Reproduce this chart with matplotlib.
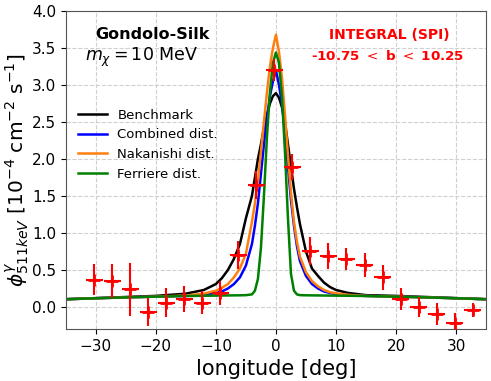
import matplotlib
matplotlib.use("Agg")
import matplotlib.pyplot as plt
import numpy as np

# ---- data ----
lon_model = [-35, -30, -25, -20, -15, -12, -10, -9, -8, -7, -6, -5, -4, -3.5, -3, -2.5, -2, -1.5, -1, -0.5,
             0, 0.5, 1, 1.5, 2, 2.5, 3, 3.5, 4, 5, 6, 7, 8, 9, 10, 12, 15, 20, 25, 30, 35]
benchmark = [0.105, 0.12, 0.135, 0.15, 0.18, 0.23, 0.31, 0.39, 0.5, 0.65, 0.85, 1.2, 1.5, 1.75, 2.0, 2.2, 2.42, 2.6, 2.75, 2.85,
             2.89, 2.83, 2.7, 2.5, 2.2, 1.9, 1.6, 1.35, 1.12, 0.75, 0.52, 0.42, 0.33, 0.27, 0.23, 0.19, 0.16, 0.15, 0.135, 0.12, 0.105]
combined = [0.105, 0.118, 0.13, 0.14, 0.15, 0.165, 0.19, 0.21, 0.25, 0.31, 0.4, 0.56, 0.85, 1.1, 1.4, 1.8, 2.2, 2.55, 2.85, 3.05,
            3.2, 3.0, 2.75, 2.35, 1.9, 1.45, 1.1, 0.82, 0.62, 0.42, 0.31, 0.25, 0.21, 0.19, 0.175, 0.16, 0.15, 0.14, 0.13, 0.118, 0.105]
nakanishi = [0.105, 0.118, 0.13, 0.14, 0.155, 0.18, 0.22, 0.26, 0.31, 0.4, 0.52, 0.72, 1.15, 1.4, 1.7, 2.1, 2.5, 2.9, 3.25, 3.5,
             3.68, 3.45, 3.1, 2.6, 2.05, 1.55, 1.15, 0.88, 0.68, 0.47, 0.35, 0.28, 0.23, 0.2, 0.185, 0.165, 0.15, 0.14, 0.13, 0.118, 0.105]
ferriere = [0.105, 0.118, 0.13, 0.14, 0.148, 0.152, 0.154, 0.155, 0.156, 0.157, 0.158, 0.16, 0.17, 0.22, 0.38, 0.8, 1.5, 2.3, 2.9, 3.3,
            3.44, 3.3, 2.85, 2.1, 1.2, 0.45, 0.22, 0.17, 0.16, 0.158, 0.157, 0.156, 0.155, 0.154, 0.153, 0.152, 0.148, 0.14, 0.13, 0.118, 0.105]

lon_data = [-30.25, -27.25, -24.25, -21.25, -18.25, -15.25, -12.25, -9.25, -6.25, -3.25, -0.25,
            2.75, 5.75, 8.75, 11.75, 14.75, 17.75, 20.75, 23.75, 26.75, 29.75, 32.75]
flux_data = [0.37, 0.35, 0.24, -0.07, 0.06, 0.11, 0.06, 0.19, 0.70, 1.65, 3.2,
             1.89, 0.76, 0.69, 0.65, 0.57, 0.40, 0.11, 0.0, -0.09, -0.21, -0.04]
flux_err = [0.21, 0.23, 0.36, 0.19, 0.2, 0.18, 0.15, 0.16, 0.19, 0.19, 0.15,
            0.18, 0.19, 0.17, 0.15, 0.16, 0.17, 0.15, 0.14, 0.15, 0.13, 0.1]
lon_halfwidth = 1.4

series_labels = ["Benchmark", "Combined dist.", "Nakanishi dist.", "Ferriere dist."]
xticks = [-30, -20, -10, 0, 10, 20, 30]
yticks = [0.0, 0.5, 1.0, 1.5, 2.0, 2.5, 3.0, 3.5, 4.0]

# ---- plot ----
fig = plt.figure(figsize=(4.91, 3.81), dpi=100)
ax = fig.add_axes([0.134, 0.136, 0.856, 0.835])

colors = ["black", "blue", "#ff7f0e", "green"]
for y, c, lab in zip([benchmark, combined, nakanishi, ferriere], colors, series_labels):
    ax.plot(lon_model, y, color=c, lw=1.8, label=lab)

ax.errorbar(lon_data, flux_data, yerr=flux_err, xerr=lon_halfwidth, fmt='+', color='red',
            ms=8, mew=2, elinewidth=1.5, capsize=0, zorder=5)

ax.set_xlim(-35, 35)
ax.set_ylim(-0.3, 4.0)
ax.set_xticks(xticks)
ax.set_yticks(yticks)
ax.tick_params(labelsize=11)
ax.grid(True, ls='--', color='#d0d0d0', lw=0.8)
for s in ax.spines.values():
    s.set_color('#555555')

ax.set_xlabel("longitude [deg]", fontsize=15)
ax.set_ylabel(r"$\phi^{\gamma}_{511keV}$ [$10^{-4}$ cm$^{-2}$ s$^{-1}$]", fontsize=14.5, labelpad=0)

ax.text(0.207, 0.925, "Gondolo-Silk", transform=ax.transAxes, ha='center', va='center',
        fontsize=11.5, fontweight='bold')
ax.text(0.18, 0.855, r"$m_\chi = 10$ MeV", transform=ax.transAxes, ha='center', va='center',
        fontsize=12.5)
ax.text(0.77, 0.925, "INTEGRAL (SPI)", transform=ax.transAxes, ha='center', va='center',
        fontsize=10, fontweight='bold', color='red')
ax.text(0.765, 0.86, r"-10.75 $<$ b $<$ 10.25", transform=ax.transAxes, ha='center', va='center',
        fontsize=9.7, fontweight='bold', color='red')

ax.legend(loc='upper left', bbox_to_anchor=(0.0, 0.73), frameon=False, fontsize=9.5,
          handlelength=2.2)

fig.savefig("out.png", dpi=100)
